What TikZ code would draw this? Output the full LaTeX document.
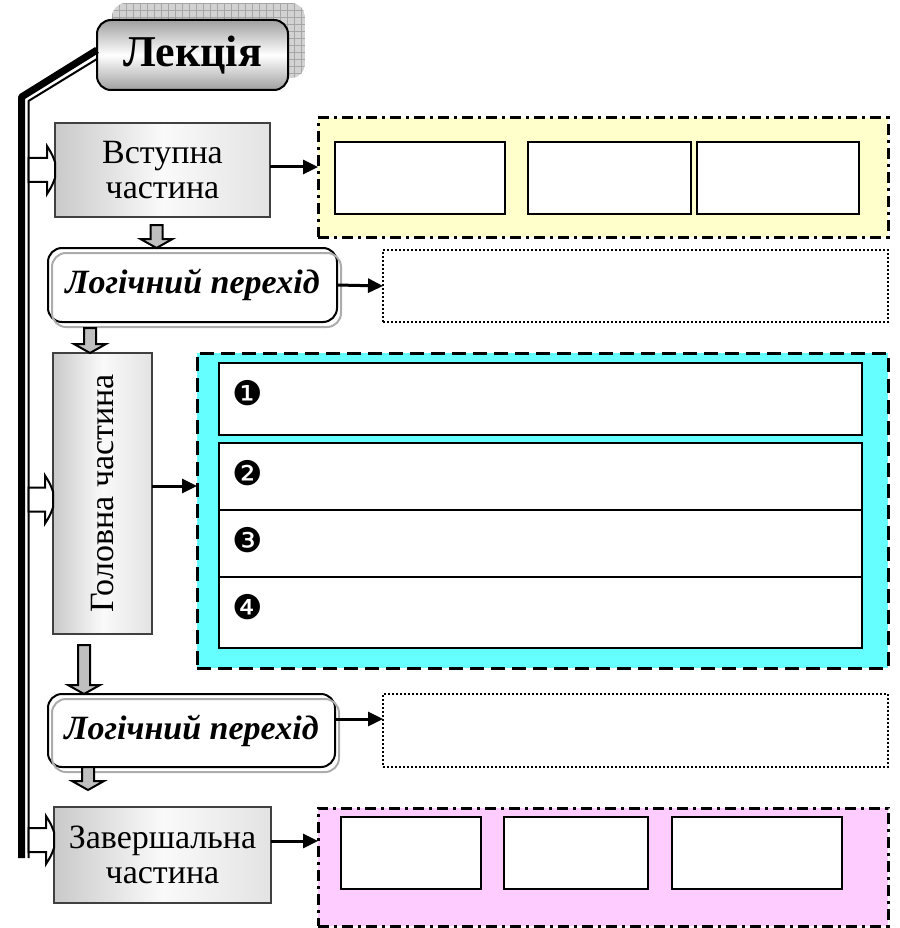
\documentclass[tikz,border=0pt]{standalone}
\usepackage{fontspec}
\setmainfont{Liberation Serif}
\newfontfamily\dingfont{DejaVu Sans}
\usetikzlibrary{positioning,arrows.meta,calc}

\definecolor{introfill}{HTML}{FFFFCC}
\definecolor{mainfill}{HTML}{66FFFF}
\definecolor{finalfill}{HTML}{FFCCFF}

\newcommand{\grayarrow}[2]{%
  \filldraw[blockarrow] let \p1=(#1), \p2=(#2) in
    (\x1-6pt,\y1) -- (\x1+6pt,\y1) -- (\x1+6pt,\y2+9pt) -- (\x1+16pt,\y2+9pt)
    -- (\x1,\y2) -- (\x1-16pt,\y2+9pt) -- (\x1-6pt,\y2+9pt) -- cycle;}
\newcommand{\sidearrow}[2]{%
  \filldraw[hollow] let \p1=(#1), \p2=(#2) in
    (\x1,\y2+12pt) -- (\x2-8pt,\y2+12pt) -- (\x2-8pt,\y2+24pt)
    .. controls (\x2-3pt,\y2+16pt) .. (\x2,\y2+8pt) -- (\x2,\y2-8pt)
    .. controls (\x2-3pt,\y2-16pt) .. (\x2-8pt,\y2-24pt)
    -- (\x2-8pt,\y2-12pt) -- (\x1,\y2-12pt) -- cycle;}

\begin{document}
\begin{tikzpicture}[x=1pt,y=-1pt,
  every node/.style={font=\fontsize{34}{35}\selectfont, inner sep=0pt, outer sep=0pt},
  part/.style={draw=black!75, line width=2pt, left color=gray!42, right color=gray!22,
    middle color=gray!4, align=center, anchor=north west},
  lecture/.style={draw, line width=2pt, rounded corners=14pt, top color=gray!75,
    bottom color=gray!75, middle color=white, anchor=north west,
    font=\bfseries\fontsize{44}{46}\selectfont},
  logic/.style={draw, fill=white, line width=2pt, rounded corners=14pt, anchor=north west,
    font=\bfseries\itshape\fontsize{34}{36}\selectfont},
  echo/.style={gray!65, line width=2pt, rounded corners=14pt},
  region/.style={draw, line width=3pt, anchor=north west},
  dashdot/.style={dash pattern=on 11pt off 5pt on 3pt off 5pt},
  note/.style={draw, line width=2pt, dash pattern=on 2pt off 2pt, anchor=north west},
  cell/.style={draw, fill=white, line width=2.6pt, anchor=north west},
  num/.style={font=\dingfont\fontsize{34}{34}\selectfont},
  rarrow/.style={-{Triangle[length=15pt,width=14pt]}, line width=3pt},
  blockarrow/.style={fill=gray!50, draw=black, line width=2pt, line join=miter},
  hollow/.style={fill=white, draw=black, line width=2pt},
  barline/.style={line width=7pt, line join=bevel},
  railline/.style={line width=2pt}]
\useasboundingbox (0,0) rectangle (899,928);

\begin{scope}
\clip[rounded corners=14pt] (112,3) rectangle (305,78);
\fill[gray!35] (112,3) rectangle (305,78);
\foreach \gx in {112,119,...,305} \draw[gray!70, line width=0.7pt] (\gx,3) -- (\gx,78);
\foreach \gy in {3,10,...,78} \draw[gray!70, line width=0.7pt] (112,\gy) -- (305,\gy);
\end{scope}
\node[lecture, minimum width=191pt, minimum height=70pt] (lect) at (97,20) {Лекція};

\coordinate (bartop) at (21.5,97);
\coordinate (barbot) at (21.5,858);
\coordinate (railtop) at (28.5,101);
\coordinate (railbot) at (28.5,858);
\draw[barline] ([yshift=5pt]lect.west) -- (bartop) -- (barbot);
\draw[railline] ([yshift=-4pt]lect.west) -- (railtop) -- (railbot);

\node[part, minimum width=215pt, minimum height=94pt] (vstup) at (55,123) {Вступна\\частина};
\node[region, dashdot, fill=introfill, minimum width=570pt, minimum height=119pt] (intro) at (318,118) {};
\node[cell, minimum width=170pt, minimum height=72pt] (intro1) at (335,142) {};
\node[cell, minimum width=163pt, minimum height=72pt] (intro2) at (528,142) {};
\node[cell, minimum width=162pt, minimum height=72pt] (intro3) at (697,142) {};

\node[logic, minimum width=289pt, minimum height=74pt] (logic1) at (48,248) {Логічний перехід};
\draw[echo] ([shift={(4,5)}]logic1.north west) rectangle ([shift={(4,5)}]logic1.south east);
\node[note, minimum width=505pt, minimum height=72pt] (note1) at (383,250) {};

\node[part, minimum width=99pt, minimum height=281pt] (glav) at (53,353) {};
\node[rotate=90] (glavtext) at (glav.center) {Головна частина};
\node[region, dash pattern=on 14pt off 7pt, fill=mainfill, minimum width=691pt, minimum height=315pt] (main) at (197,353) {};
\node[cell, minimum width=643pt, minimum height=72pt] (main1) at (219,363) {};
\node[cell, minimum width=643pt, minimum height=67pt] (main2) at (219,443) {};
\node[cell, minimum width=643pt, minimum height=67pt] (main3) at (219,510) {};
\node[cell, minimum width=643pt, minimum height=71pt] (main4) at (219,577) {};
\node[num] (num1) at ([shift={(29,30)}]main1.north west) {❶};
\node[num] (num2) at ([shift={(29,30)}]main2.north west) {❷};
\node[num] (num3) at ([shift={(29,30)}]main3.north west) {❸};
\node[num] (num4) at ([shift={(29,30)}]main4.north west) {❹};

\node[logic, minimum width=287pt, minimum height=73pt] (logic2) at (48,694) {Логічний перехід};
\draw[echo] ([shift={(4,5)}]logic2.north west) rectangle ([shift={(4,5)}]logic2.south east);
\node[note, minimum width=505pt, minimum height=73pt] (note2) at (383,694) {};

\node[part, minimum width=217pt, minimum height=96pt] (zav) at (54,807) {Завершальна\\частина};
\node[region, dashdot, fill=finalfill, minimum width=570pt, minimum height=118pt] (final) at (318,808) {};
\node[cell, minimum width=140pt, minimum height=72pt] (final1) at (341,817) {};
\node[cell, minimum width=144pt, minimum height=72pt] (final2) at (504,817) {};
\node[cell, minimum width=170pt, minimum height=72pt] (final3) at (672,817) {};

\grayarrow{$(vstup.south)+(-6,8)$}{logic1.north}
\grayarrow{$(logic1.south west)+(42,6)$}{glav.north}
\grayarrow{$(glav.south west)+(31,11)$}{logic2.north}
\grayarrow{$(logic2.south west)+(40,0)$}{$(zav.north)+(0,-17)$}

\sidearrow{railtop}{vstup.west}
\sidearrow{railtop}{$(glav.west)+(0,6)$}
\sidearrow{railtop}{$(zav.west)+(0,-15)$}

\path ([yshift=3pt]vstup.east) coordinate (vout);
\draw[rarrow] (vout) -- (vout -| intro.west);
\draw[rarrow] (logic1.east) -- (note1.west);
\path ([yshift=7.5pt]glav.east) coordinate (gout);
\draw[rarrow] (gout) -- (gout -| main.west);
\path ([yshift=11.5pt]logic2.east) coordinate (lout);
\draw[rarrow] (lout) -- (lout -| note2.west);
\path ([yshift=14pt]zav.east) coordinate (zout);
\draw[rarrow] (zout) -- (zout -| final.west);
\end{tikzpicture}
\end{document}
